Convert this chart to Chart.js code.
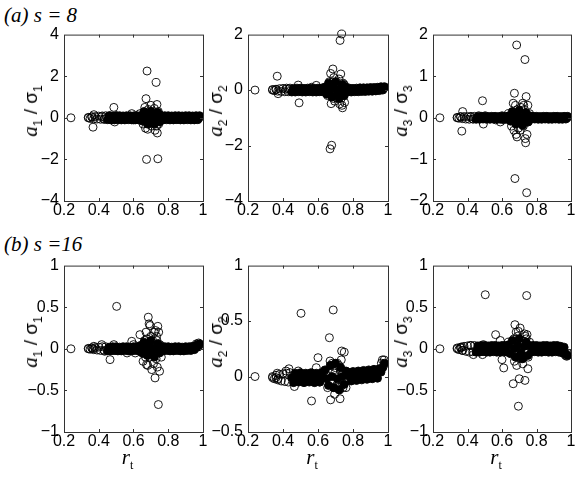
<!DOCTYPE html>
<html>
<head>
<meta charset="utf-8">
<script src="https://cdn.jsdelivr.net/npm/chart.js@4.4.0/dist/chart.umd.min.js"></script>
<style>
body { margin: 0; background: #fff; width: 581px; height: 479px; position: relative; overflow: hidden; font-family: "Liberation Sans", Arial, sans-serif; }
canvas { position: absolute; }
.ttl { position: absolute; font-family: "Liberation Serif", serif; font-style: italic; font-size: 21px; line-height: 20px; white-space: nowrap; }
.yl { position: absolute; white-space: nowrap; transform: translate(-50%, -50%) rotate(-90deg); font-size: 19px; line-height: 22px; }
.yl i, .xl i { font-family: "Liberation Serif", serif; font-size: 21px; }
.yl sub, .xl sub { font-size: 12px; vertical-align: -5px; }
.xl { position: absolute; white-space: nowrap; transform: translateX(-50%); line-height: 22px; }
.xl sub { font-family: "Liberation Serif", serif; }
</style>
</head>
<body>

<div class="ttl" style="left:4px; top:5px">(a) s = 8</div>
<div class="ttl" style="left:4px; top:234px">(b) s =16</div>

<script>
// r_t Werte des dichten Bandes (gemeinsam fuer alle Teilbilder)
const rtBand = [0.34, 0.35, 0.36, 0.37, 0.38, 0.39, 0.40, 0.41, 0.42, 0.43,
    0.44, 0.45, 0.46, 0.47, 0.48, 0.49, 0.50, 0.51, 0.52, 0.53,
    0.54, 0.55, 0.56, 0.57, 0.58, 0.59, 0.60, 0.61, 0.62, 0.63,
    0.64, 0.65, 0.66, 0.67, 0.68, 0.69, 0.70, 0.71, 0.72, 0.73, 0.74, 0.75, 0.76,
    0.77, 0.78, 0.79, 0.80, 0.81, 0.82, 0.83, 0.84, 0.85, 0.86, 0.87, 0.88, 0.89, 0.90,
    0.91, 0.92, 0.93, 0.94, 0.95, 0.96, 0.97, 0.98];

// ab hier ist das Band so dicht, dass es schwarz erscheint
const denseFrom = 0.445;

// r_t Werte der einzelnen Ausreisser
const rtScatter = [0.24, 0.34, 0.36, 0.367, 0.372, 0.417, 0.434, 0.465, 0.487, 0.492,
    0.503, 0.563, 0.59, 0.6, 0.61, 0.637, 0.655, 0.665, 0.669, 0.672,
    0.675, 0.678, 0.682, 0.685, 0.687, 0.69, 0.695, 0.695, 0.7, 0.705,
    0.71, 0.715, 0.72, 0.724, 0.726, 0.73, 0.733, 0.735, 0.737, 0.74,
    0.743, 0.745, 0.75, 0.752, 0.76, 0.955, 0.962, 0.968, 0.975, 0.978];

// (a) s = 8
const a1Band = [0.02, -0.03, 0.04, -0.05, 0.06, -0.06, 0.08, -0.07, 0.09, -0.08,
    0.1, -0.09, 0.1, -0.1, 0.09, -0.1, 0.1, -0.09, 0.1, -0.1,
    0.09, -0.1, 0.1, -0.09, 0.1, -0.1, 0.09, -0.1, 0.1, -0.1,
    0.1, -0.15, 0.3, 0, -0.3, 0.1, 0.3, -0.1, -0.3, 0.05, 0.25, -0.2, 0.1,
    -0.1, 0.1, -0.09, 0.1, -0.1, 0.09, -0.1, 0.1, -0.09, 0.1, -0.1, 0.09, -0.1, 0.1,
    -0.09, 0.1, -0.1, 0.09, -0.1, 0.1, -0.09, 0.1];
const a1Scatter = [0, 0, 0.05, -0.45, 0.15, 0.05, -0.05, 0.1, 0.5, -0.2,
    0.1, 0.05, 0.2, -0.1, 0.1, 0.2, -0.3, 0.5, -0.5, 0.92,
    -2.0, 2.25, -0.55, 0.4, -0.3, 0.3, -0.2, 0.15, 0.6, -0.4,
    0.3, -0.25, 0.45, -0.6, 0.2, 1.7, -0.4, 0.64, -0.73, -1.97,
    0.3, -0.3, 0.15, -0.15, 0.1, 0, 0, 0, 0, 0];

const a2Band = [0.02, -0.02, 0.03, -0.04, 0.05, -0.05, 0.06, -0.06, 0.07, -0.06,
    0.07, -0.07, 0.06, -0.07, 0.07, -0.06, 0.07, -0.07, 0.06, -0.07,
    0.07, -0.06, 0.07, -0.07, 0.06, -0.07, 0.07, -0.06, 0.07, -0.07,
    0.1, -0.15, 0.25, 0, -0.25, 0.1, 0.3, -0.1, -0.3, 0.05, 0.2, -0.2, 0.1,
    -0.06, 0.07, -0.07, 0.06, -0.06, 0.07, -0.06, 0.08, -0.05, 0.08, -0.05, 0.08, -0.04, 0.09,
    -0.04, 0.09, -0.03, 0.1, -0.02, 0.12, 0.0, 0.12];
const a2Scatter = [0, 0, 0.02, 0.5, -0.13, 0.03, 0.04, -0.05, 0.18, -0.46,
    0.05, 0.1, 0.17, -0.05, 0.05, 0.1, -0.2, 0.3, -2.12, 0.6,
    -0.49, -1.99, 0.3, 0.76, -0.3, 0.45, -0.4, 0.2, -0.15, 0.3,
    -0.3, 0.15, 0.4, -0.5, 1.79, 0.58, -0.3, 2.02, -0.55, -0.64,
    0.25, -0.2, 0.2, -0.45, 0.1, 0.05, 0.08, 0.06, 0.1, 0.08];

const a3Band = [0.01, -0.01, 0.02, -0.02, 0.03, -0.03, 0.03, -0.035, 0.035, -0.03,
    0.035, -0.035, 0.03, -0.035, 0.035, -0.03, 0.035, -0.035, 0.03, -0.035,
    0.035, -0.03, 0.035, -0.035, 0.03, -0.035, 0.035, -0.03, 0.035, -0.035,
    0.05, -0.08, 0.15, 0, -0.15, 0.05, 0.18, -0.05, -0.18, 0.03, 0.12, -0.1, 0.05,
    -0.035, 0.035, -0.03, 0.035, -0.035, 0.03, -0.035, 0.035, -0.03, 0.035, -0.035, 0.03, -0.035, 0.035,
    -0.03, 0.035, -0.035, 0.03, -0.035, 0.035, -0.03, 0.035];
const a3Scatter = [0, 0, 0.03, -0.32, 0.15, 0.02, -0.03, 0.05, 0.41, -0.15,
    0.05, -0.05, -0.1, 0.05, -0.05, 0.1, -0.2, 0.35, -0.3, 0.59,
    -1.46, 0.3, -0.4, 1.75, -0.46, 0.2, -0.25, 0.12, 0.1, -0.3,
    0.25, -0.15, 0.35, -0.2, 0.3, 0.2, 1.4, -0.5, -0.6, 0.51,
    -1.8, -0.4, 0.3, -0.1, 0.1, 0, 0, 0, 0, 0];

// (b) s = 16
const b1Band = [0.005, -0.005, 0.01, -0.01, 0.015, -0.015, 0.02, -0.02, 0.025, -0.02,
    0.025, -0.025, 0.02, -0.025, 0.025, -0.02, 0.025, -0.025, 0.02, -0.025,
    0.025, -0.02, 0.025, -0.025, 0.02, -0.025, 0.025, -0.02, 0.025, -0.025,
    0.04, -0.05, 0.08, 0, -0.08, 0.03, 0.1, -0.03, -0.1, 0.02, 0.06, -0.05, 0.03,
    -0.025, 0.025, -0.02, 0.025, -0.025, 0.02, -0.025, 0.025, -0.02, 0.025, -0.025, 0.02, -0.025, 0.025,
    -0.02, 0.025, -0.02, 0.03, -0.01, 0.04, 0.02, 0.06];
const b1Scatter = [0, 0, 0.01, 0, 0.03, 0.05, -0.03, -0.13, 0.05, -0.02,
    0.51, -0.05, 0.09, 0.05, -0.05, 0.17, -0.15, 0.1, -0.1, 0.2,
    -0.19, 0.12, -0.2, 0.38, 0.05, 0.3, 0.28, -0.1, 0.15, -0.25,
    0.1, -0.18, 0.2, -0.35, 0.22, -0.12, 0.15, 0.1, -0.22, 0.27,
    -0.67, 0.2, -0.27, 0.05, -0.1, 0.03, 0.06, 0.05, 0.07, 0.04];

const b2Band = [0.0, -0.02, 0.01, -0.03, 0.02, -0.04, 0.025, -0.045, 0.03, -0.05,
    0.035, -0.01, -0.055, 0.03, -0.01, -0.05, 0.035, -0.01, -0.055, 0.03,
    -0.01, -0.05, 0.035, -0.01, -0.055, 0.03, -0.01, -0.05, 0.035, -0.01,
    0.06, -0.02, -0.08, 0.1, 0, -0.1, 0.12, -0.02, -0.12, 0.08, 0, -0.07, 0.05,
    0.04, 0, -0.04, 0.045, 0.005, -0.035, 0.05, 0.01, -0.03, 0.055, 0.015, -0.025, 0.06, 0.02,
    -0.02, 0.065, 0.025, -0.015, 0.07, 0.04, 0.08, 0.12];
const b2Scatter = [0, -0.01, -0.01, 0.03, -0.02, 0.05, 0.07, -0.09, 0.05, -0.04,
    0.57, -0.22, 0.08, 0.17, -0.05, 0.05, -0.1, 0.35, 0.14, -0.21,
    0.1, -0.05, 0.12, 0.05, 0.6, -0.1, -0.16, 0.03, 0.08, -0.08,
    0.12, -0.03, 0.1, -0.12, -0.2, 0.05, 0.15, 0.23, -0.08, 0.02,
    -0.1, 0.05, 0.22, -0.05, -0.1, 0.05, 0.12, 0.15, 0.1, 0.15];

const b3Band = [0.01, -0.01, 0.02, -0.02, 0.03, -0.03, 0.035, -0.04, 0.04, -0.035,
    0.04, -0.04, 0.035, -0.04, 0.04, -0.035, 0.04, -0.04, 0.035, -0.04,
    0.04, -0.035, 0.04, -0.04, 0.035, -0.04, 0.04, -0.035, 0.04, -0.04,
    0.05, -0.06, 0.1, 0, -0.1, 0.04, 0.12, -0.04, -0.12, 0.03, 0.08, -0.08, 0.04,
    -0.04, 0.04, -0.035, 0.04, -0.04, 0.035, -0.04, 0.04, -0.035, 0.04, -0.04, 0.035, -0.04, 0.04,
    -0.035, 0.04, -0.04, 0.03, -0.05, 0.02, -0.06, -0.08];
const b3Scatter = [0, 0, 0.01, 0.02, -0.02, 0.04, -0.07, -0.03, -0.07, 0.05,
    0.65, 0.17, 0.1, -0.13, -0.23, 0.08, 0.05, -0.42, 0.12, -0.15,
    0.29, -0.1, 0.2, -0.2, -0.05, 0.15, -0.69, 0.21, -0.36, 0.25,
    -0.12, 0.1, -0.18, 0.05, -0.1, 0.18, -0.38, 0.15, -0.05, 0.12,
    0.64, 0.17, -0.24, -0.1, 0.08, -0.03, -0.06, -0.08, -0.09, -0.05];

// Achsenbeschriftungen
const xTicks = [0.2, 0.4, 0.6, 0.8, 1];
const a1Ticks = [-4, -2, 0, 2, 4];
const a2Ticks = [-4, -2, 0, 2];
const a3Ticks = [-2, -1, 0, 1, 2];
const b1Ticks = [-1, -0.5, 0, 0.5, 1];
const b2Ticks = [-0.5, 0, 0.5, 1];
const b3Ticks = [-1, -0.5, 0, 0.5, 1];

const yAxisWidth = 50;
const padTop = 12;
const padRight = 10;
const xAxisHeight = 24;

// Rahmen mit Innenticks wie in Matlab
const framePlugin = {
    id: 'frame',
    afterDraw(chart)
    {
        const { ctx, chartArea: a, scales } = chart;
        ctx.save();
        ctx.strokeStyle = '#333';
        ctx.lineWidth = 1;
        ctx.strokeRect(a.left + 0.5, a.top + 0.5, a.right - a.left, a.bottom - a.top);
        ctx.beginPath();
        scales.x.ticks.forEach(t =>
        {
            const px = Math.round(scales.x.getPixelForValue(t.value)) + 0.5;
            if (px <= a.left + 1 || px >= a.right) return;
            ctx.moveTo(px, a.bottom);
            ctx.lineTo(px, a.bottom - 3);
            ctx.moveTo(px, a.top);
            ctx.lineTo(px, a.top + 3);
        });
        scales.y.ticks.forEach(t =>
        {
            const py = Math.round(scales.y.getPixelForValue(t.value)) + 0.5;
            if (py <= a.top + 1 || py >= a.bottom) return;
            ctx.moveTo(a.left, py);
            ctx.lineTo(a.left + 3, py);
            ctx.moveTo(a.right, py);
            ctx.lineTo(a.right - 3, py);
        });
        ctx.stroke();
        ctx.restore();
    }
};

function toPoints(xs, ys)
{
    return xs.map((x, i) => ({ x: x, y: ys[i] }));
}

function fmt(v)
{
    const r = Math.round(v * 100) / 100;
    return String(r).replace('-', '\u2212');
}

function makePanel(p)
{
    const canvas = document.createElement('canvas');
    const w = p.width + yAxisWidth + padRight;
    const h = p.height + padTop + xAxisHeight;
    canvas.width = w;
    canvas.height = h;
    canvas.style.left = (p.left - yAxisWidth) + 'px';
    canvas.style.top = (p.top - padTop) + 'px';
    canvas.style.width = w + 'px';
    canvas.style.height = h + 'px';
    document.body.appendChild(canvas);

    const pointStyle = {
        pointRadius: 4,
        pointBorderWidth: 0.9,
        pointBorderColor: '#000',
        pointBackgroundColor: 'rgba(0,0,0,0)',
        borderColor: '#000',
        showLine: false,
        clip: false,
    };

    // das dichte Band: viele ueberlagerte Kreise -> wirkt schwarz gefuellt
    const bandStyle = Object.assign({}, pointStyle, {
        pointBackgroundColor: c => (c.raw && c.raw.x > denseFrom) ? '#000' : 'rgba(0,0,0,0)',
    });

    new Chart(canvas.getContext('2d'), {
        type: 'scatter',
        data: {
            datasets: [
                Object.assign({ data: toPoints(rtBand, p.band) }, bandStyle),
                Object.assign({ data: toPoints(rtScatter, p.scatter) }, pointStyle),
            ]
        },
        options: {
            responsive: false,
            devicePixelRatio: 1,
            animation: false,
            events: [],
            layout: { padding: { left: 0, top: padTop, right: padRight, bottom: 0 } },
            plugins: { legend: { display: false }, tooltip: { enabled: false } },
            scales: {
                x: {
                    type: 'linear',
                    min: 0.2,
                    max: 1,
                    afterBuildTicks: s => { s.ticks = xTicks.map(v => ({ value: v })); },
                    afterFit: s => { s.height = xAxisHeight; },
                    grid: { display: false, drawTicks: false },
                    border: { display: false },
                    ticks: {
                        padding: 0,
                        color: '#000',
                        maxRotation: 0,
                        autoSkip: false,
                        font: { family: 'Liberation Sans', size: 16 },
                        callback: v => fmt(v),
                    },
                },
                y: {
                    type: 'linear',
                    min: p.ticks[0],
                    max: p.ticks[p.ticks.length - 1],
                    afterBuildTicks: s => { s.ticks = p.ticks.map(v => ({ value: v })); },
                    afterFit: s => { s.width = yAxisWidth; },
                    grid: { display: false, drawTicks: false },
                    border: { display: false },
                    ticks: {
                        padding: 5,
                        color: '#000',
                        autoSkip: false,
                        font: { family: 'Liberation Sans', size: 16 },
                        callback: v => fmt(v),
                    },
                },
            },
        },
        plugins: [framePlugin],
    });

    // y Beschriftung
    const yl = document.createElement('div');
    yl.className = 'yl';
    yl.style.left = p.ylX + 'px';
    yl.style.top = (p.top + p.height / 2 - 6) + 'px';
    yl.innerHTML = '<i>a</i><sub>' + p.k + '</sub> / \u03c3<sub>' + p.k + '</sub>';
    document.body.appendChild(yl);

    // x Beschriftung nur unten
    if (p.xLabel)
    {
        const xl = document.createElement('div');
        xl.className = 'xl';
        xl.style.left = (p.left + p.width / 2 - 6) + 'px';
        xl.style.top = '446px';
        xl.innerHTML = '<i>r</i><sub>t</sub>';
        document.body.appendChild(xl);
    }
}

const panels = [
    { left: 64, top: 32, width: 139, height: 169, ticks: a1Ticks, band: a1Band, scatter: a1Scatter, k: 1, ylX: 34 },
    { left: 248, top: 32, width: 140, height: 169, ticks: a2Ticks, band: a2Band, scatter: a2Scatter, k: 2, ylX: 219 },
    { left: 433, top: 32, width: 138, height: 169, ticks: a3Ticks, band: a3Band, scatter: a3Scatter, k: 3, ylX: 404 },
    { left: 64, top: 263, width: 139, height: 169, ticks: b1Ticks, band: b1Band, scatter: b1Scatter, k: 1, ylX: 34, xLabel: true },
    { left: 248, top: 263, width: 140, height: 169, ticks: b2Ticks, band: b2Band, scatter: b2Scatter, k: 2, ylX: 219, xLabel: true },
    { left: 433, top: 263, width: 138, height: 169, ticks: b3Ticks, band: b3Band, scatter: b3Scatter, k: 3, ylX: 404, xLabel: true },
];

panels.forEach(makePanel);
</script>
</body>
</html>
